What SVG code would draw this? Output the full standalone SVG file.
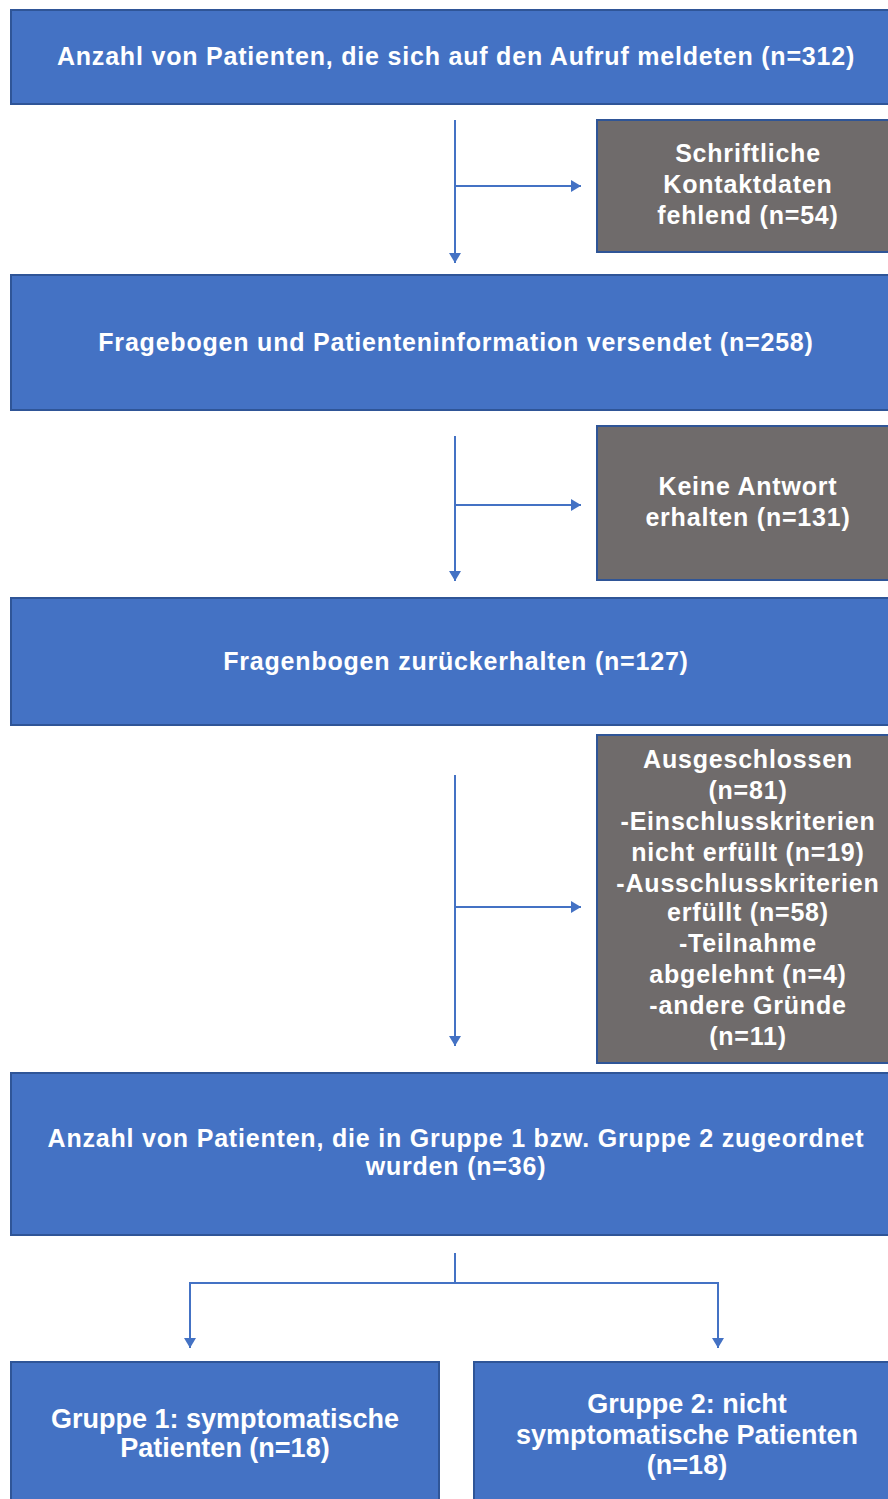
<svg xmlns="http://www.w3.org/2000/svg" width="888" height="1499" viewBox="0 0 888 1499">
<defs>
<style>
.b{fill:#4472C4;stroke:#2F5597;stroke-width:2}
.g{fill:#6F6B6B;stroke:#2F5597;stroke-width:2}
.t{font-family:"Liberation Sans",Arial,sans-serif;font-weight:bold;font-size:25px;letter-spacing:0.8px;fill:#FFFFFF;text-anchor:middle}
.s{font-size:27px;letter-spacing:0}
.c{fill:none;stroke:#4472C4;stroke-width:2}
</style>
<marker id="ah" viewBox="0 0 10 12" refX="10" refY="6" markerWidth="10" markerHeight="12" orient="auto" markerUnits="userSpaceOnUse">
<path d="M0,0 L10,6 L0,12 z" fill="#4472C4"/>
</marker>
</defs>
<rect width="888" height="1499" fill="#FFFFFF"/>
<g id="connectors">
<line class="c" x1="455" y1="120" x2="455" y2="263" marker-end="url(#ah)"/>
<line class="c" x1="455" y1="186" x2="581" y2="186" marker-end="url(#ah)"/>
<line class="c" x1="455" y1="436" x2="455" y2="581" marker-end="url(#ah)"/>
<line class="c" x1="455" y1="505" x2="581" y2="505" marker-end="url(#ah)"/>
<line class="c" x1="455" y1="775" x2="455" y2="1046" marker-end="url(#ah)"/>
<line class="c" x1="455" y1="907" x2="581" y2="907" marker-end="url(#ah)"/>
<line class="c" x1="455" y1="1253" x2="455" y2="1283"/>
<line class="c" x1="189" y1="1283" x2="719" y2="1283"/>
<line class="c" x1="190" y1="1282" x2="190" y2="1348" marker-end="url(#ah)"/>
<line class="c" x1="718" y1="1282" x2="718" y2="1348" marker-end="url(#ah)"/>
</g>
<g id="n1"><rect class="b" x="11" y="10" width="890" height="94"/><text class="t" x="456" y="65">Anzahl von Patienten, die sich auf den Aufruf meldeten (n=312)</text></g>
<g id="n2"><rect class="g" x="597" y="120" width="300" height="132"/><text class="t" x="748" y="162">Schriftliche</text><text class="t" x="748" y="193">Kontaktdaten</text><text class="t" x="748" y="224">fehlend (n=54)</text></g>
<g id="n3"><rect class="b" x="11" y="275" width="890" height="135"/><text class="t" x="456" y="351">Fragebogen und Patienteninformation versendet (n=258)</text></g>
<g id="n4"><rect class="g" x="597" y="426" width="300" height="154"/><text class="t" x="748" y="495">Keine Antwort</text><text class="t" x="748" y="526">erhalten (n=131)</text></g>
<g id="n5"><rect class="b" x="11" y="598" width="890" height="127"/><text class="t" x="456" y="670">Fragenbogen zurückerhalten (n=127)</text></g>
<g id="n6"><rect class="g" x="597" y="735" width="300" height="328"/>
<text class="t" x="748" y="768">Ausgeschlossen</text>
<text class="t" x="748" y="799">(n=81)</text>
<text class="t" x="748" y="830">-Einschlusskriterien</text>
<text class="t" x="748" y="861">nicht erfüllt (n=19)</text>
<text class="t" x="748" y="892">-Ausschlusskriterien</text>
<text class="t" x="748" y="921">erfüllt (n=58)</text>
<text class="t" x="748" y="952">-Teilnahme</text>
<text class="t" x="748" y="983">abgelehnt (n=4)</text>
<text class="t" x="748" y="1014">-andere Gründe</text>
<text class="t" x="748" y="1045">(n=11)</text>
</g>
<g id="n7"><rect class="b" x="11" y="1073" width="890" height="162"/><text class="t" x="456" y="1147">Anzahl von Patienten, die in Gruppe 1 bzw. Gruppe 2 zugeordnet</text><text class="t" x="456" y="1175">wurden (n=36)</text></g>
<g id="n8"><rect class="b" x="11" y="1362" width="428" height="150"/><text class="t s" x="225" y="1428">Gruppe 1: symptomatische</text><text class="t s" x="225" y="1457">Patienten (n=18)</text></g>
<g id="n9"><rect class="b" x="474" y="1362" width="430" height="150"/><text class="t s" x="687" y="1413">Gruppe 2: nicht</text><text class="t s" x="687" y="1444">symptomatische Patienten</text><text class="t s" x="687" y="1474">(n=18)</text></g>
</svg>
